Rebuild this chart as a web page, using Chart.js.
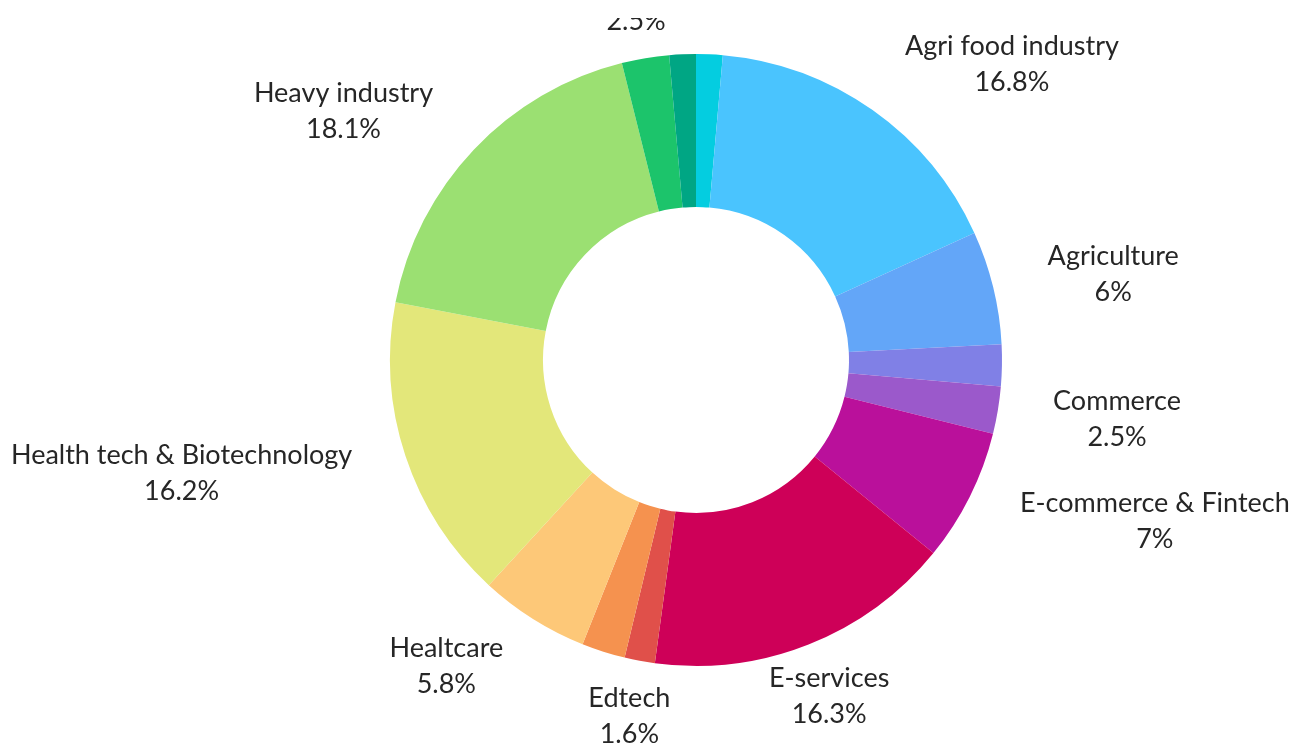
<!DOCTYPE html>
<html>
<head>
<meta charset="utf-8">
<script src="https://cdn.jsdelivr.net/npm/chart.js@4/dist/chart.umd.min.js"></script>
<style>
	html, body { margin: 0; padding: 0; background: #fff; }
	#wrap { width: 1292px; height: 746px; }
</style>
</head>
<body>
<div id="wrap"><canvas id="sectorShare"></canvas></div>
<script>
const sectors = [
	'Aerospace',
	'Agri food industry',
	'Agriculture',
	'Chemicals',
	'Commerce',
	'E-commerce & Fintech',
	'E-services',
	'Edtech',
	'Energy & Cleantech',
	'Healtcare',
	'Health tech & Biotechnology',
	'Heavy industry',
	'ICT & Software',
	'Logistics',
]
const shares = [1.4, 16.8, 6, 2.2, 2.5, 7, 16.3, 1.6, 2.3, 5.8, 16.2, 18.1, 2.5, 1.4]
const sliceColors = [
	'#04CDE0', '#4AC4FE', '#63A6F8', '#8080E6', '#9B59CB', '#BA109B', '#CE0058',
	'#E0504A', '#F5924F', '#FDC878', '#E3E77A', '#9BE072', '#1CC46B', '#00A684',
]

// labels outside the ring, bigger slices first, skip any that would overlap
const outsideLabels = {
	id: 'outsideLabels',
	afterDatasetsDraw(chart) {
		const ctx = chart.ctx
		const meta = chart.getDatasetMeta(0)
		const lineH = 36
		const placed = []
		ctx.save()
		// labels may not climb more than one line above the chart area
		ctx.beginPath()
		ctx.rect(0, chart.chartArea.top - lineH, chart.width, chart.height)
		ctx.clip()
		ctx.font = '27px Lato'
		ctx.fillStyle = '#262626'
		ctx.textAlign = 'center'
		ctx.textBaseline = 'middle'
		const order = shares.map((v, i) => i).sort((a, b) => shares[b] - shares[a])
		order.forEach((i) => {
			const arc = meta.data[i]
			const p = arc.getProps(['x', 'y', 'startAngle', 'endAngle', 'outerRadius'], true)
			const mid = (p.startAngle + p.endAngle) / 2
			const r = p.outerRadius + 56
			const vx = Math.cos(mid)
			const vy = Math.sin(mid)
			const lines = [sectors[i], shares[i] + '%']
			const w = Math.max(...lines.map((t) => ctx.measureText(t).width))
			const h = lines.length * lineH
			let cx = p.x + vx * r
			if (vx > 0.45) cx += w / 2
			else if (vx < -0.45) cx -= w / 2
			const cy = p.y + vy * r
			const box = { l: cx - w / 2, r: cx + w / 2, t: cy - h / 2, b: cy + h / 2 }
			if (placed.some((o) => box.l < o.r && box.r > o.l && box.t < o.b && box.b > o.t)) return
			placed.push(box)
			lines.forEach((t, k) => ctx.fillText(t, cx, box.t + lineH * (k + 0.5)))
		})
		ctx.restore()
	},
}

const ctx1 = document.getElementById('sectorShare')

const sectorChart = new Chart(ctx1, {
	type: 'doughnut',
	data: {
		labels: sectors,
		datasets: [
			{
				label: 'Share',
				data: shares,
				backgroundColor: sliceColors,
				borderWidth: 0,
			},
		],
	},
	options: {
		responsive: true,
		maintainAspectRatio: false,
		animation: false,
		cutout: '50%',
		layout: {
			padding: { top: 54, bottom: 80, left: 100, right: 0 },
		},
		plugins: {
			legend: { display: false },
			tooltip: { enabled: false },
		},
	},
	plugins: [outsideLabels],
})
</script>
</body>
</html>
